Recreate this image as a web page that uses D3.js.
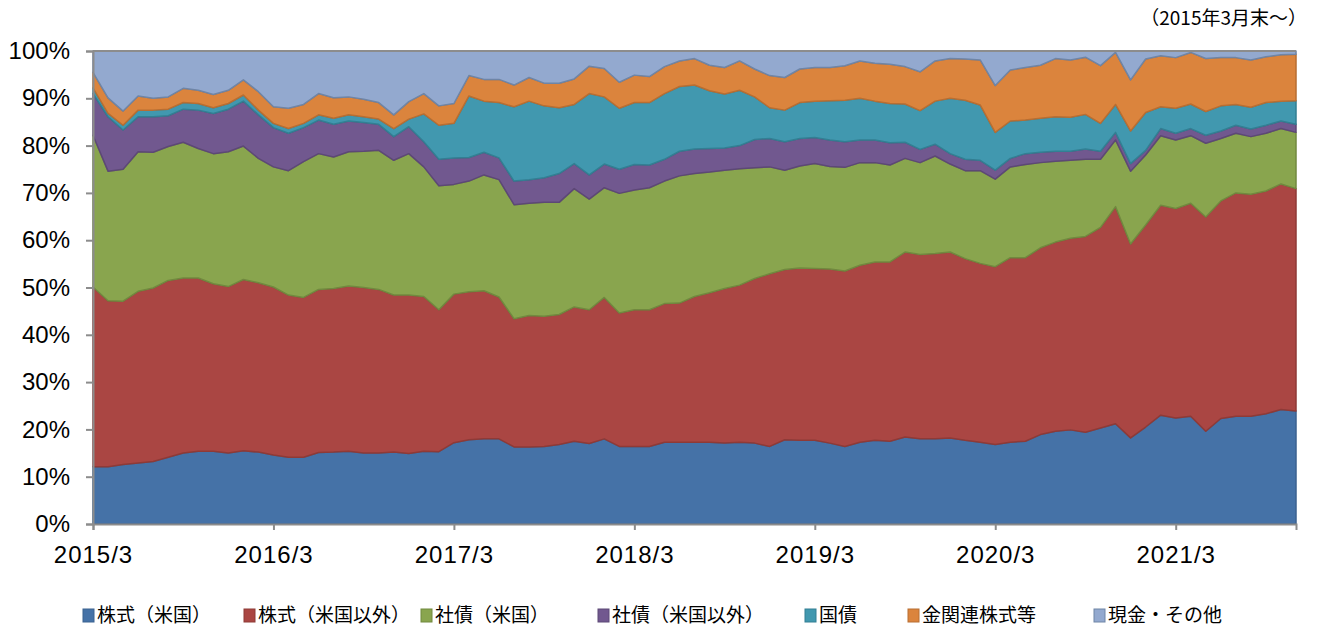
<!DOCTYPE html>
<html>
<head>
<meta charset="utf-8">
<script src="https://cdn.jsdelivr.net/npm/d3@7"></script>
<style>
  body { margin: 0; background: #fff; }
  svg { display: block; }
  text { font-family: "Liberation Sans", Arial, sans-serif; fill: #000; }
  .jp { font-family: "Noto Sans CJK JP", sans-serif; }
</style>
</head>
<body>
<div id="chart"></div>
<script>
// monthly points, 2015/3 .. 2021/11 (% of portfolio)
const usStocks = [12.1,12.1,12.6,12.9,13.2,14.1,15.0,15.4,15.4,15.0,15.5,15.2,14.6,14.1,14.1,15.1,15.2,15.4,15.0,15.0,
  15.2,14.9,15.4,15.3,17.2,17.8,18.0,18.0,16.3,16.3,16.4,16.8,17.5,17.0,18.0,16.4,16.4,16.4,17.3,17.3,
  17.3,17.3,17.1,17.3,17.1,16.4,17.8,17.7,17.7,17.1,16.4,17.3,17.7,17.5,18.4,18.0,18.0,18.2,17.7,17.3,
  16.8,17.3,17.5,18.9,19.6,19.9,19.4,20.3,21.2,18.2,20.5,23.0,22.4,22.8,19.6,22.3,22.8,22.8,23.3,24.2,23.9];
const nonUsStocks = [38.0,35.1,34.5,36.3,36.7,37.4,37.0,36.6,35.4,35.2,36.2,35.8,35.5,34.3,33.8,34.5,34.6,34.9,35.0,34.6,
  33.2,33.5,32.7,30.0,31.4,31.3,31.3,30.0,27.1,27.8,27.5,27.5,28.4,28.3,29.9,28.2,28.9,28.9,29.3,29.4,
  30.8,31.6,32.7,33.2,34.8,36.5,36.0,36.4,36.3,36.8,37.1,37.4,37.7,37.9,39.1,39.0,39.2,39.3,38.4,37.8,
  37.6,39.0,38.8,39.5,40.0,40.5,41.4,42.4,45.9,41.0,42.7,44.4,44.3,45.0,45.3,46.0,47.2,46.9,47.1,47.7,47.0];
const usBonds = [32.1,27.4,27.9,29.5,28.7,28.3,28.7,27.4,27.5,28.5,28.2,26.3,25.4,26.3,28.7,28.7,27.8,28.4,28.8,29.4,
  28.5,29.9,27.4,26.2,23.2,23.4,24.5,24.8,24.1,23.7,24.1,23.7,25.0,23.4,23.2,25.3,25.3,25.8,25.9,26.9,
  26.0,25.5,25.0,24.6,23.4,22.6,21.0,21.6,22.2,21.7,21.9,21.7,21.0,20.5,19.8,19.4,20.6,18.6,18.6,19.6,
  18.5,19.2,19.7,18.0,17.1,16.5,16.3,14.4,14.1,15.4,14.8,14.7,14.5,14.3,15.6,13.2,12.6,12.2,12.2,11.7,11.9];
const nonUsBonds = [8.8,11.5,8.3,7.4,7.5,6.5,7.0,8.1,8.5,9.0,9.5,9.2,8.3,7.9,7.2,7.1,6.9,6.5,6.1,5.5,
  5.0,5.7,5.3,5.6,5.6,5.0,4.8,4.6,5.0,5.0,5.2,6.1,5.3,5.1,5.0,5.1,5.4,4.8,4.6,5.2,
  5.2,5.0,4.7,4.9,6.0,6.0,6.0,5.8,5.5,5.6,5.4,4.8,4.8,4.7,3.4,2.8,2.5,2.2,2.4,2.2,
  1.9,1.8,2.3,2.2,2.1,1.9,2.2,1.7,1.6,1.6,1.0,1.5,1.4,1.5,1.7,1.6,1.7,1.6,1.7,1.6,1.7];
const govBonds = [1.2,0.7,1.0,1.4,1.4,1.4,1.4,1.4,1.2,1.2,1.3,1.0,0.9,1.0,0.9,1.1,1.3,1.3,1.2,1.1,
  1.7,1.6,5.9,7.2,7.3,13.0,10.8,11.7,15.7,16.6,15.2,13.9,12.5,17.2,14.2,12.9,13.1,13.2,13.9,13.7,
  13.5,12.2,11.4,11.7,9.0,6.5,6.7,7.6,7.7,8.3,8.8,8.8,8.2,8.3,8.1,8.2,9.1,11.7,12.5,11.7,
  8.0,7.9,7.1,7.2,7.3,7.2,7.3,5.9,5.9,6.9,8.0,4.6,5.3,5.2,5.0,5.3,4.4,4.6,4.8,4.2,5.0];
const goldStocks = [3.3,3.3,3.0,3.0,2.5,2.6,3.0,2.8,2.8,2.8,3.2,3.9,3.5,4.3,4.0,4.5,4.3,3.8,3.7,3.5,
  2.9,3.7,4.3,4.1,4.2,4.3,4.6,4.9,4.6,5.0,4.8,5.2,5.4,5.8,6.0,5.5,5.8,5.5,5.7,5.4,
  5.6,5.4,5.6,6.2,5.9,6.8,6.9,7.1,7.1,7.0,7.3,7.9,8.0,8.3,7.9,8.2,8.5,8.4,8.7,9.5,
  9.9,10.8,11.1,11.2,12.3,12.1,12.1,12.2,11.0,10.8,11.3,10.8,10.7,10.9,11.2,10.2,9.9,10.0,9.7,9.8,9.8];
const cashOther = [4.5,9.9,12.7,9.5,10.0,9.7,7.9,8.3,9.2,8.3,6.1,8.6,11.8,12.1,11.3,9.0,9.9,9.7,10.2,10.9,
  13.5,10.7,9.0,11.6,11.1,5.2,6.0,6.0,7.2,5.6,6.8,6.8,5.9,3.2,3.7,6.6,5.1,5.4,3.3,2.1,
  1.6,3.0,3.5,2.1,3.8,5.2,5.6,3.8,3.5,3.5,3.1,2.1,2.6,2.8,3.3,4.4,2.1,1.6,1.7,1.9,
  7.3,4.0,3.5,3.0,1.6,1.9,1.3,3.1,0.3,6.1,1.7,1.0,1.4,0.3,1.6,1.4,1.4,1.9,1.2,0.8,0.7];

const seriesNames = ["株式（米国）", "株式（米国以外）", "社債（米国）", "社債（米国以外）", "国債", "金関連株式等", "現金・その他"];
const seriesValues = [usStocks, nonUsStocks, usBonds, nonUsBonds, govBonds, goldStocks, cashOther];
const fills = ["#4572A7", "#AA4643", "#89A54E", "#71588F", "#4198AF", "#DB843D", "#93A9CF"];
const strokes = ["#3B6290", "#8E3A37", "#71893F", "#5D4876", "#327F93", "#B86E32", "#6F85A6"];

const yTicks = [0, 10, 20, 30, 40, 50, 60, 70, 80, 90, 100];
const xTickLabels = ["2015/3", "2016/3", "2017/3", "2018/3", "2019/3", "2020/3", "2021/3"];
const xTickIndex = [0, 12, 24, 36, 48, 60, 72];

const months = d3.timeMonth.range(new Date(2015, 2, 1), new Date(2021, 11, 1));

// Chart dimensions
const width = 1318;
const height = 628;
const margin = { top: 51, right: 22, bottom: 104, left: 93 };

const rows = months.map((m, i) => {
    const r = { i: i };
    seriesNames.forEach((k, j) => { r[k] = seriesValues[j][i]; });
    return r;
});

const stacked = d3.stack().keys(seriesNames)(rows);

// Scales
const x = d3.scaleLinear()
    .domain([0, months.length - 1])
    .range([margin.left, width - margin.right]);

const y = d3.scaleLinear()
    .domain([0, 100])
    .range([height - margin.bottom, margin.top]);

const svg = d3.select("#chart")
    .append("svg")
    .attr("width", width)
    .attr("height", height);

const area = d3.area()
    .x(d => x(d.data.i))
    .y0(d => y(d[0]))
    .y1(d => y(d[1]));

// Areas
svg.append("g")
    .selectAll("path")
    .data(stacked)
    .join("path")
    .attr("d", area)
    .attr("fill", (d, i) => fills[i])
    .attr("stroke", (d, i) => strokes[i])
    .attr("stroke-width", 1.5)
    .attr("stroke-linejoin", "round");

// Plot border top
svg.append("line")
    .attr("x1", margin.left).attr("x2", width - margin.right)
    .attr("y1", margin.top).attr("y2", margin.top)
    .attr("stroke", "#8c8c8c").attr("stroke-width", 2);

// Y axis
const yAxis = svg.append("g")
    .attr("transform", `translate(${margin.left},0)`)
    .call(d3.axisLeft(y).tickValues(yTicks).tickSize(7).tickPadding(16).tickFormat(d => d + "%"));
yAxis.select(".domain").attr("stroke", "#8c8c8c").attr("stroke-width", 2);
yAxis.selectAll(".tick line").attr("stroke", "#8c8c8c").attr("stroke-width", 2);
yAxis.selectAll("text").attr("font-size", "24px").attr("font-family", "'Liberation Sans', Arial, sans-serif").attr("fill", "#000");

// X axis
const xAxis = svg.append("g")
    .attr("transform", `translate(0,${height - margin.bottom})`)
    .call(d3.axisBottom(x).tickValues(xTickIndex).tickSize(6).tickPadding(16)
        .tickFormat((d, i) => xTickLabels[i]));
xAxis.select(".domain").attr("stroke", "#8c8c8c").attr("stroke-width", 2);
xAxis.selectAll(".tick line").attr("stroke", "#8c8c8c").attr("stroke-width", 2);
xAxis.selectAll("text").attr("font-size", "24px").attr("letter-spacing", "1px")
    .attr("font-family", "'Liberation Sans', Arial, sans-serif").attr("fill", "#000");

// Note at top right
svg.append("text")
    .attr("class", "jp")
    .attr("x", 1307)
    .attr("y", 25)
    .attr("text-anchor", "end")
    .attr("font-size", "19px")
    .text("（2015年3月末～）");

// Legend
const legendX = [83, 244, 421, 598, 805, 908, 1094];
const legend = svg.append("g")
    .selectAll("g")
    .data(seriesNames)
    .join("g")
    .attr("transform", (d, i) => `translate(${legendX[i]},615)`);

legend.append("rect")
    .attr("x", 0).attr("y", -6)
    .attr("width", 11).attr("height", 13)
    .attr("fill", (d, i) => fills[i])
    .attr("stroke", (d, i) => strokes[i]);

legend.append("text")
    .attr("class", "jp")
    .attr("x", 14)
    .attr("y", 0)
    .attr("dy", "0.35em")
    .attr("font-size", "19px")
    .text(d => d);
</script>
</body>
</html>
